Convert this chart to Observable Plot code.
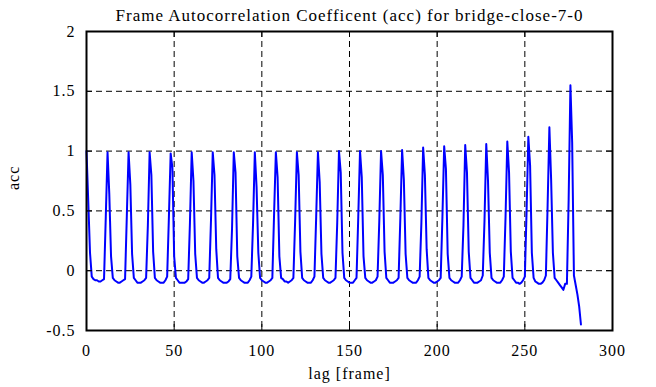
<!DOCTYPE html>
<html>
<head>
<meta charset="utf-8">
<script src="https://cdn.jsdelivr.net/npm/d3@7"></script>
<script src="https://cdn.jsdelivr.net/npm/@observablehq/plot@0.6"></script>
<style>
  html, body { margin: 0; padding: 0; background: #fff; }
</style>
</head>
<body>
<div id="chart"></div>
<script>
const title = "Frame Autocorrelation Coefficent (acc) for bridge-close-7-0";
const xLabel = "lag [frame]";
const yLabel = "acc";
const xTicks = [0, 50, 100, 150, 200, 250, 300];
const xTickLabels = ["0", "50", "100", "150", "200", "250", "300"];
const yTicks = [-0.5, 0, 0.5, 1, 1.5, 2];
const yTickLabels = ["-0.5", "0", "0.5", "1", "1.5", "2"];

// acc value at each lag 0..282 (12 lags per row)
const acc = [
  1.00, 0.58, 0.15, -0.05, -0.07, -0.08, -0.08, -0.09, -0.09, -0.08, -0.07, 0.45,
  0.99, 0.64, 0.12, -0.06, -0.08, -0.09, -0.10, -0.10, -0.09, -0.08, -0.07, 0.46,
  0.99, 0.72, 0.14, -0.06, -0.08, -0.10, -0.10, -0.10, -0.09, -0.08, -0.06, 0.38,
  0.99, 0.80, 0.16, -0.06, -0.08, -0.09, -0.10, -0.10, -0.10, -0.08, -0.05, 0.45,
  0.98, 0.86, 0.12, -0.06, -0.08, -0.10, -0.10, -0.10, -0.10, -0.09, -0.07, 0.40,
  0.99, 0.75, 0.14, -0.06, -0.08, -0.09, -0.10, -0.10, -0.09, -0.08, -0.06, 0.42,
  0.99, 0.80, 0.18, -0.06, -0.08, -0.09, -0.10, -0.10, -0.10, -0.09, -0.07, 0.35,
  0.99, 0.82, 0.12, -0.06, -0.08, -0.09, -0.10, -0.10, -0.10, -0.08, -0.05, 0.40,
  0.99, 0.70, 0.15, -0.06, -0.08, -0.09, -0.10, -0.10, -0.09, -0.08, -0.06, 0.48,
  0.99, 0.78, 0.12, -0.06, -0.07, -0.09, -0.09, -0.10, -0.09, -0.08, -0.06, 0.42,
  0.99, 0.80, 0.16, -0.06, -0.08, -0.09, -0.10, -0.10, -0.10, -0.08, -0.05, 0.45,
  0.99, 0.74, 0.14, -0.06, -0.08, -0.09, -0.10, -0.10, -0.09, -0.08, -0.06, 0.40,
  1.00, 0.82, 0.15, -0.06, -0.08, -0.09, -0.10, -0.10, -0.10, -0.08, -0.06, 0.45,
  1.00, 0.78, 0.12, -0.06, -0.08, -0.09, -0.10, -0.10, -0.09, -0.08, -0.05, 0.42,
  1.00, 0.80, 0.16, -0.06, -0.08, -0.10, -0.10, -0.10, -0.09, -0.08, -0.06, 0.44,
  1.01, 0.76, 0.14, -0.06, -0.08, -0.09, -0.10, -0.10, -0.10, -0.08, -0.05, 0.40,
  1.03, 0.80, 0.18, -0.06, -0.08, -0.09, -0.10, -0.10, -0.09, -0.08, -0.06, 0.45,
  1.04, 0.85, 0.14, -0.06, -0.08, -0.09, -0.10, -0.10, -0.10, -0.08, -0.05, 0.38,
  1.05, 0.82, 0.16, -0.06, -0.08, -0.10, -0.10, -0.10, -0.09, -0.08, -0.04, 0.42,
  1.06, 0.75, 0.15, -0.06, -0.08, -0.09, -0.10, -0.10, -0.10, -0.08, -0.05, 0.45,
  1.08, 0.82, 0.16, -0.06, -0.08, -0.10, -0.10, -0.11, -0.10, -0.08, -0.05, 0.50,
  1.12, 0.88, 0.15, -0.06, -0.09, -0.10, -0.11, -0.11, -0.10, -0.08, -0.04, 0.55,
  1.20, 0.76, 0.15, -0.06, -0.08, -0.10, -0.12, -0.14, -0.16, -0.11, -0.11, 0.60,
  1.55, 1.07, -0.04, -0.12, -0.20, -0.30, -0.45
];
const lags = d3.range(acc.length);

const W = 656, H = 387;
const mL = 86, mR = 44, mT = 31, mB = 57;
const fw = W - mL - mR, fh = H - mT - mB;
const tick = 6;

const chart = Plot.plot({
  width: W,
  height: H,
  marginLeft: mL,
  marginRight: mR,
  marginTop: mT,
  marginBottom: mB,
  style: {fontFamily: "Liberation Serif", fontSize: "16px", letterSpacing: "1px", color: "black", background: "white"},
  x: {domain: [0, 300]},
  y: {domain: [-0.5, 2]},
  marks: [
    Plot.ruleX(xTicks, {stroke: "black", strokeWidth: 1, strokeDasharray: "6,4"}),
    Plot.ruleY(yTicks, {stroke: "black", strokeWidth: 1, strokeDasharray: "6,4"}),
    Plot.line(lags, {x: (d) => d, y: (d) => acc[d], stroke: "#0000ff", strokeWidth: 2}),
    Plot.ruleX(xTicks, {stroke: "black", strokeWidth: 1, insetTop: fh - tick}),
    Plot.ruleX(xTicks, {stroke: "black", strokeWidth: 1, insetBottom: fh - tick}),
    Plot.ruleY(yTicks, {stroke: "black", strokeWidth: 1, insetRight: fw - tick}),
    Plot.ruleY(yTicks, {stroke: "black", strokeWidth: 1, insetLeft: fw - tick}),
    Plot.frame({stroke: "black", strokeWidth: 2}),
    Plot.axisX({ticks: xTicks, tickSize: 0, tickPadding: 14, label: null,
      tickFormat: (d) => xTickLabels[xTicks.indexOf(d)]}),
    Plot.axisY({ticks: yTicks, tickSize: 0, tickPadding: 11, label: null,
      tickFormat: (d) => yTickLabels[yTicks.indexOf(d)]}),
    Plot.text([title], {text: (d) => d, frameAnchor: "top", dy: -23, fontSize: 17}),
    Plot.text([xLabel], {text: (d) => d, frameAnchor: "bottom", dy: 48, fontSize: 16}),
    Plot.text([yLabel], {text: (d) => d, frameAnchor: "left", dx: -73, dy: 9, rotate: -90, fontSize: 16})
  ]
});
document.getElementById("chart").appendChild(chart);
</script>
</body>
</html>
